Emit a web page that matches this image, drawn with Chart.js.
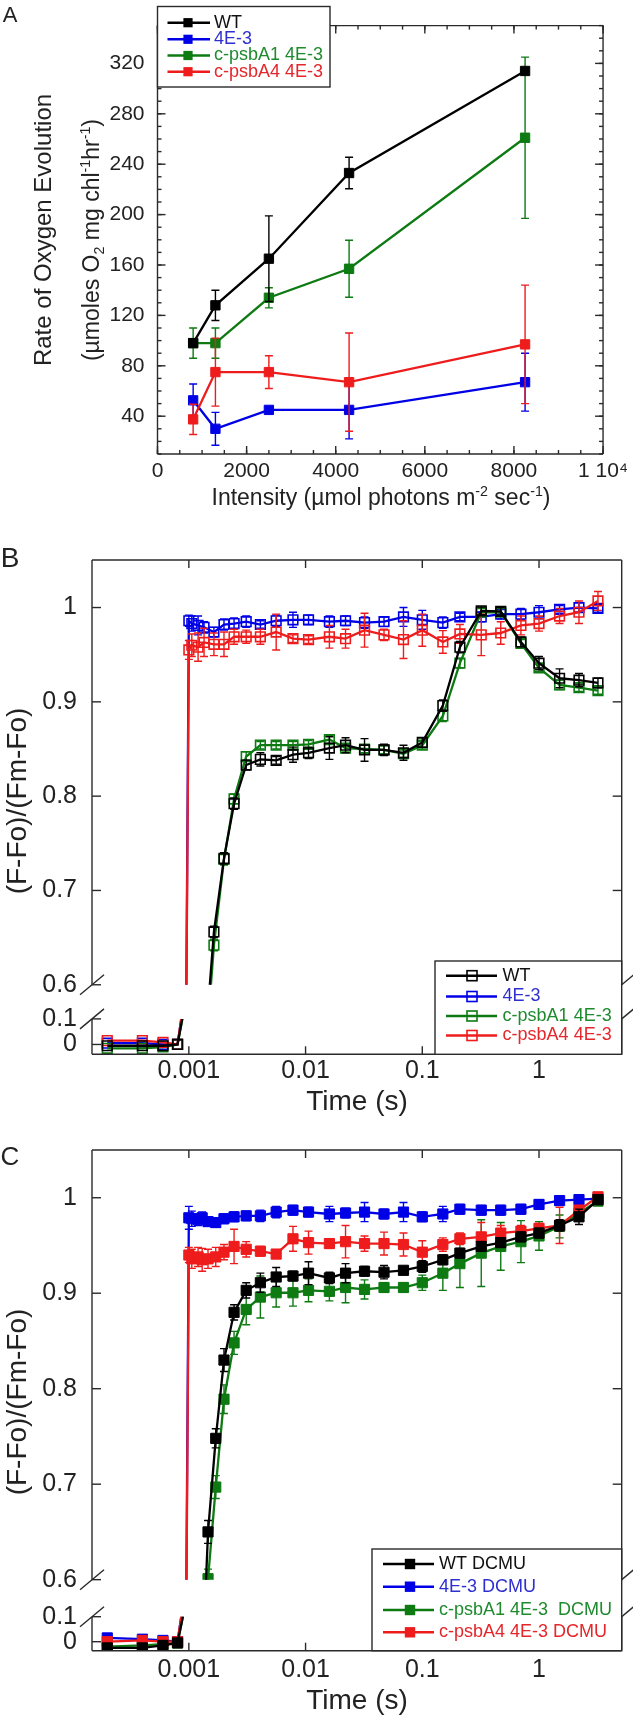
<!DOCTYPE html>
<html>
<head>
<meta charset="utf-8">
<script src="https://cdn.jsdelivr.net/npm/chart.js@4.4.1/dist/chart.umd.min.js"></script>
<style>
  body { margin: 0; background: #fff; }
  #page { position: relative; width: 633px; height: 1718px; font-family: 'Liberation Sans', Arial, sans-serif; color: #222; overflow: hidden; }
  canvas { position: absolute; left: 0; }
  .t { position: absolute; white-space: nowrap; transform: translate(-50%, -50%); line-height: 1; }
  .rot { transform: translate(-50%, -50%) rotate(-90deg); }
  sup, sub { font-size: 62%; line-height: 0; }
</style>
</head>
<body>
<div id="page">
  <canvas id="chartA" width="633" height="530" style="top:0"></canvas>
  <canvas id="chartB" width="633" height="590" style="top:530px"></canvas>
  <canvas id="chartC" width="633" height="598" style="top:1120px"></canvas>

  <div class="t" style="left:10px;top:15px;font-size:22px">A</div>
  <div class="t rot" style="left:43px;top:230px;font-size:24px">Rate of Oxygen Evolution</div>
  <div class="t rot" style="left:91px;top:240px;font-size:23px">(µmoles O<sub>2</sub> mg chl<sup>-1</sup>hr<sup>-1</sup>)</div>
  <div class="t" style="left:381px;top:497px;font-size:23px">Intensity (µmol photons m<sup>-2</sup> sec<sup>-1</sup>)</div>

  <div class="t" style="left:10px;top:558px;font-size:28px">B</div>
  <div class="t rot" style="left:17px;top:801px;font-size:28px">(F-Fo)/(Fm-Fo)</div>
  <div class="t" style="left:357px;top:1101px;font-size:28px">Time (s)</div>

  <div class="t" style="left:10px;top:1156px;font-size:26px">C</div>
  <div class="t rot" style="left:17px;top:1402px;font-size:28px">(F-Fo)/(Fm-Fo)</div>
  <div class="t" style="left:357px;top:1700px;font-size:28px">Time (s)</div>
</div>
<script>
Chart.defaults.font.family = "'Liberation Sans', Arial, sans-serif";
Chart.defaults.color = '#222';

// ---- panel A: oxygen evolution vs light intensity
const A_LABELS = ['WT', '4E-3', 'c-psbA1 4E-3', 'c-psbA4 4E-3'];
const A_INTENSITY = [800, 1300, 2500, 4300, 8250];
const A_WT = [98, 128, 165, 233, 314];
const A_WT_ERR = [0, 12, 34, 12.5, 0];
const A_4E3 = [52.6, 30, 45, 45, 67];
const A_4E3_ERR = [13, 13, 0, 23, 23];
const A_PSBA1 = [98, 98, 134, 157, 261];
const A_PSBA1_ERR = [12, 12, 8, 22.6, 64];
const A_PSBA4 = [37.5, 75, 75, 67, 97];
const A_PSBA4_ERR = [12, 27, 13, 39, 47];
const A_X_TICKS = [0, 2000, 4000, 6000, 8000, 10000];
const A_Y_TICKS = [40, 80, 120, 160, 200, 240, 280, 320];

// ---- panel B: fluorescence induction, no DCMU (null = not shown)
const B_LABELS = ['WT', '4E-3', 'c-psbA1 4E-3', 'c-psbA4 4E-3'];
const B_TIME = [0.0002, 0.0004, 0.0006, 0.0008, 0.0009, 0.001, 0.00106, 0.0012, 0.00135, 0.00164,
  0.002, 0.00244, 0.0031, 0.0041, 0.0056, 0.0078, 0.0106, 0.016, 0.022, 0.032, 0.047, 0.069,
  0.1, 0.15, 0.21, 0.32, 0.47, 0.7, 1.0, 1.5, 2.2, 3.2];
const B_WT = [-0.005, -0.005, -0.005, 0.0, null, null, null, 0.44, null, 0.656,
  0.734, 0.792, 0.833, 0.839, 0.838, 0.844, 0.846, 0.851, 0.854, 0.849, 0.849, 0.846,
  0.857, 0.896, 0.958, 0.9965, 0.996, 0.9635, 0.941, 0.925, 0.923, 0.920];
const B_WT_ERR = [0, 0, 0, 0, null, null, null, 0, null, 0.006,
  0.006, 0.006, 0.005, 0.007, 0.004, 0.008, 0.006, 0.012, 0.008, 0.012, 0.006, 0.008,
  0.005, 0.006, 0.006, 0.004, 0.004, 0.005, 0.007, 0.01, 0.007, 0.005];
const B_4E3 = [0.005, 0.005, 0.0, 0.0, 0.16, 0.986, 0.983, 0.981, 0.979, 0.974,
  0.982, 0.983, 0.985, 0.982, 0.986, 0.987, 0.987, 0.985, 0.986, 0.984, 0.985, 0.99,
  0.987, 0.984, 0.99, 0.99, 0.993, 0.993, 0.995, 0.998, 1.0, 0.999];
const B_4E3_ERR = [0, 0, 0, 0, 0, 0.006, 0.008, 0.01, 0.006, 0.005,
  0.006, 0.006, 0.006, 0.004, 0.006, 0.008, 0.005, 0.006, 0.005, 0.006, 0.005, 0.01,
  0.01, 0.006, 0.004, 0.005, 0.005, 0.006, 0.007, 0.004, 0.005, 0.004];
const B_PSBA1 = [-0.015, -0.015, -0.01, 0.0, null, null, null, 0.42, null, 0.642,
  0.733, 0.797, 0.842, 0.854, 0.854, 0.854, 0.855, 0.860, 0.851, 0.850, 0.849, 0.845,
  0.854, 0.885, 0.941, 0.995, 0.995, 0.962, 0.936, 0.918, 0.915, 0.912];
const B_PSBA1_ERR = [0, 0, 0, 0, null, null, null, 0, null, 0.006,
  0.006, 0.005, 0.005, 0.004, 0.004, 0.004, 0.004, 0.004, 0.004, 0.004, 0.004, 0.004,
  0.004, 0.006, 0.005, 0.004, 0.004, 0.004, 0.004, 0.005, 0.004, 0.004];
const B_PSBA4 = [0.015, 0.015, 0.008, 0.0, 0.16, 0.955, 0.960, 0.958, 0.963, 0.961,
  0.961, 0.969, 0.969, 0.969, 0.974, 0.967, 0.966, 0.969, 0.967, 0.976, 0.971, 0.966,
  0.976, 0.9635, 0.972, 0.971, 0.973, 0.981, 0.983, 0.991, 0.995, 1.007];
const B_PSBA4_ERR = [0, 0, 0, 0, 0, 0.01, 0.012, 0.015, 0.015, 0.012,
  0.013, 0.008, 0.007, 0.008, 0.019, 0.004, 0.004, 0.012, 0.01, 0.018, 0.006, 0.02,
  0.017, 0.012, 0.01, 0.022, 0.012, 0.01, 0.008, 0.008, 0.012, 0.01];

// ---- panel C: fluorescence induction with DCMU
const C_LABELS = ['WT DCMU', '4E-3 DCMU', 'c-psbA1 4E-3  DCMU', 'c-psbA4 4E-3 DCMU'];
const C_TIME = [0.0002, 0.0004, 0.0006, 0.0008, 0.0009, 0.001, 0.00106, 0.0012, 0.0013, 0.00146,
  0.0017, 0.002, 0.00244, 0.0031, 0.0041, 0.0056, 0.0078, 0.0106, 0.016, 0.022, 0.032, 0.047,
  0.069, 0.1, 0.15, 0.21, 0.32, 0.47, 0.7, 1.0, 1.5, 2.2, 3.2];
const C_WT = [-0.025, -0.025, -0.015, -0.005, null, null, null, 0.40, null, 0.650,
  0.748, 0.830, 0.880, 0.903, 0.911, 0.917, 0.918, 0.921, 0.916, 0.921, 0.923, 0.922,
  0.924, 0.928, 0.935, 0.942, 0.949, 0.953, 0.959, 0.963, 0.971, 0.980, 0.998];
const C_WT_ERR = [0, 0, 0, 0, null, null, null, 0, null, 0.012,
  0.01, 0.012, 0.008, 0.008, 0.01, 0.01, 0.005, 0.012, 0.006, 0.01, 0.005, 0.007,
  0.004, 0.006, 0.005, 0.005, 0.005, 0.005, 0.005, 0.005, 0.006, 0.008, 0.004];
const C_4E3 = [0.015, 0.01, 0.005, 0.0, 0.16, 0.979, 0.978, 0.977, 0.979, 0.975,
  0.974, 0.978, 0.980, 0.981, 0.981, 0.985, 0.987, 0.985, 0.983, 0.984, 0.985, 0.983,
  0.985, 0.980, 0.983, 0.988, 0.987, 0.987, 0.988, 0.993, 0.997, 0.998, 0.999];
const C_4E3_ERR = [0, 0, 0, 0, 0, 0.012, 0.008, 0.006, 0.006, 0.005,
  0.005, 0.005, 0.005, 0.005, 0.006, 0.006, 0.005, 0.005, 0.008, 0.005, 0.01, 0.005,
  0.01, 0.005, 0.008, 0.005, 0.005, 0.005, 0.005, 0.005, 0.005, 0.005, 0.004];
const C_PSBA1 = [-0.02, -0.015, -0.01, -0.005, null, null, null, 0.40, null, 0.601,
  0.697, 0.789, 0.848, 0.883, 0.896, 0.9005, 0.9005, 0.903, 0.902, 0.906, 0.904, 0.906,
  0.906, 0.911, 0.921, 0.931, 0.942, 0.949, 0.954, 0.960, 0.970, 0.984, 0.9965];
const C_PSBA1_ERR = [0, 0, 0, 0, null, null, null, 0, null, 0.01,
  0.012, 0.015, 0.012, 0.016, 0.022, 0.015, 0.014, 0.012, 0.01, 0.016, 0.01, 0.005,
  0.005, 0.008, 0.018, 0.025, 0.035, 0.025, 0.022, 0.015, 0.012, 0.006, 0.004];
const C_PSBA4 = [0.0, 0.005, 0.0, 0.0, 0.16, 0.940, 0.936, 0.938, 0.935, 0.936,
  0.938, 0.943, 0.949, 0.946, 0.944, 0.941, 0.957, 0.953, 0.952, 0.954, 0.952, 0.952,
  0.951, 0.943, 0.951, 0.957, 0.959, 0.963, 0.965, 0.968, 0.971, 0.987, 1.001];
const C_PSBA4_ERR = [0, 0, 0, 0, 0, 0.008, 0.01, 0.01, 0.012, 0.01,
  0.01, 0.008, 0.018, 0.008, 0.005, 0.004, 0.013, 0.012, 0.005, 0.017, 0.008, 0.012,
  0.012, 0.012, 0.007, 0.006, 0.015, 0.008, 0.006, 0.005, 0.019, 0.005, 0.004];

const TIME_TICKS = [0.001, 0.01, 0.1, 1];
const UPPER_TICKS = [0.6, 0.7, 0.8, 0.9, 1];
const LOWER_TICKS = [0, 0.1];

const COLORS = ['#000000', '#0000e6', '#0d7a12', '#ee1c1c'];
const TEXT_COLORS = ['#111111', '#2f2fd0', '#1f8a2e', '#e5262b'];
const DRAW_ORDER = [1, 4, 3, 2];

function points(xs, ys, errs) {
  const out = [];
  xs.forEach((x, i) => {
    if (ys[i] !== null) out.push({ x: x, y: ys[i], e: errs[i] || 0 });
  });
  return out;
}

// clip each dataset to its axis section and draw its error bars under it
const errorBars = {
  id: 'errorBars',
  beforeDatasetDraw(chart, args) {
    const ds = chart.data.datasets[args.index];
    const ys = chart.scales[args.meta.yAxisID];
    const a = chart.chartArea;
    const ctx = chart.ctx;
    ctx.save();
    if (ds.clipRange) {
      const top = ys.getPixelForValue(ds.clipRange[1]);
      const bottom = ys.getPixelForValue(ds.clipRange[0]);
      ctx.beginPath();
      ctx.rect(a.left, top, a.right - a.left, bottom - top);
      ctx.clip();
    }
    ctx.strokeStyle = ds.borderColor;
    ctx.lineWidth = 1.4;
    args.meta.data.forEach((pt, i) => {
      const d = ds.data[i];
      if (!d.e) return;
      const y1 = ys.getPixelForValue(d.y + d.e);
      const y2 = ys.getPixelForValue(d.y - d.e);
      ctx.beginPath();
      ctx.moveTo(pt.x, y1); ctx.lineTo(pt.x, y2);
      ctx.moveTo(pt.x - 4, y1); ctx.lineTo(pt.x + 4, y1);
      ctx.moveTo(pt.x - 4, y2); ctx.lineTo(pt.x + 4, y2);
      ctx.stroke();
    });
  },
  afterDatasetDraw(chart) {
    chart.ctx.restore();
  }
};

function framePlugin(cfg) {
  return {
    id: 'frame',
    afterDatasetsDraw(chart) {
      const { ctx, chartArea: a, scales } = chart;
      const seg = (x1, y1, x2, y2) => { ctx.beginPath(); ctx.moveTo(x1, y1); ctx.lineTo(x2, y2); ctx.stroke(); };
      ctx.save();
      ctx.strokeStyle = '#2a2a2a';
      ctx.lineWidth = 1.4;
      seg(a.left, a.top, a.right, a.top);
      seg(a.left, a.bottom, a.right, a.bottom);
      if (cfg.brk) {
        const y1 = scales.yU.getPixelForValue(0.6);
        const y2 = scales.yL.getPixelForValue(0.1);
        [a.left, a.right].forEach(x => {
          seg(x, a.top, x, y1);
          seg(x, y2, x, a.bottom);
          seg(x - 12, y1 + 10, x + 12, y1 - 10);
          seg(x - 12, y2 + 10, x + 12, y2 - 10);
        });
      } else {
        seg(a.left, a.top, a.left, a.bottom);
        seg(a.right, a.top, a.right, a.bottom);
      }
      cfg.xTicks.forEach(([v, len]) => {
        const px = scales.x.getPixelForValue(v);
        seg(px, a.bottom, px, a.bottom - len);
        seg(px, a.top, px, a.top + len);
      });
      cfg.yTicks.forEach(([id, v, len]) => {
        const py = scales[id].getPixelForValue(v);
        seg(a.left, py, a.left + len, py);
        seg(a.right, py, a.right - len, py);
      });
      ctx.restore();
    }
  };
}

function legendPlugin(cfg) {
  return {
    id: 'boxLegend',
    afterDraw(chart) {
      const ctx = chart.ctx;
      const [l, t, r, b] = cfg.box;
      ctx.save();
      ctx.fillStyle = '#fff';
      ctx.fillRect(l, t, r - l, b - t);
      ctx.strokeStyle = '#2a2a2a';
      ctx.lineWidth = 1.4;
      ctx.strokeRect(l, t, r - l, b - t);
      ctx.font = cfg.size + "px 'Liberation Sans', Arial, sans-serif";
      ctx.textBaseline = 'middle';
      chart.data.datasets.filter(d => d.label).forEach((ds, i) => {
        const y = cfg.rows[i];
        ctx.strokeStyle = ds.borderColor;
        ctx.lineWidth = 2.4;
        ctx.beginPath(); ctx.moveTo(cfg.line[0], y); ctx.lineTo(cfg.line[1], y); ctx.stroke();
        const h = cfg.mark[1];
        if (cfg.open) {
          ctx.lineWidth = 1.6;
          ctx.strokeRect(cfg.mark[0] - h, y - h, 2 * h, 2 * h);
        } else {
          ctx.fillStyle = ds.borderColor;
          ctx.fillRect(cfg.mark[0] - h, y - h, 2 * h, 2 * h);
        }
        ctx.fillStyle = ds.textColor;
        ctx.fillText(ds.label, cfg.text, y);
      });
      ctx.restore();
    }
  };
}

function yAxis(min, max, ticks, width, size, pad, extra) {
  return Object.assign({
    type: 'linear', position: 'left', min: min, max: max, bounds: 'data',
    afterBuildTicks: s => { s.ticks = ticks.map(v => ({ value: v })); },
    afterFit: s => { s.width = width; },
    grid: { display: false, drawTicks: false },
    border: { display: false },
    ticks: { font: { size: size }, color: '#222', padding: pad, autoSkip: false, callback: v => String(v) }
  }, extra || {});
}

function xAxis(type, min, max, ticks, height, size, pad, fmt) {
  return {
    type: type, min: min, max: max, bounds: 'data',
    afterBuildTicks: s => { s.ticks = ticks.map(v => ({ value: v })); },
    afterFit: s => { s.height = height; },
    grid: { display: false, drawTicks: false },
    border: { display: false },
    ticks: { font: { size: size }, color: '#222', padding: pad, autoSkip: false, maxRotation: 0, callback: fmt }
  };
}

const baseOptions = {
  responsive: false,
  animation: false,
  devicePixelRatio: 1,
  events: [],
  plugins: { legend: { display: false }, tooltip: { enabled: false } }
};

// ---------- Chart A
const aValues = [A_WT, A_4E3, A_PSBA1, A_PSBA4];
const aErrors = [A_WT_ERR, A_4E3_ERR, A_PSBA1_ERR, A_PSBA4_ERR];
const aMinorX = [];
for (let v = 0; v <= 10000; v += 500) aMinorX.push([v, 4]);
const aMinorY = [];
for (let v = 10; v <= 350; v += 10) aMinorY.push(['y', v, 4]);

new Chart(document.getElementById('chartA'), {
  type: 'line',
  data: {
    datasets: A_LABELS.map((label, k) => ({
      label: label,
      textColor: TEXT_COLORS[k],
      data: points(A_INTENSITY, aValues[k], aErrors[k]),
      borderColor: COLORS[k],
      backgroundColor: COLORS[k],
      borderWidth: 2.3,
      pointStyle: 'rect',
      pointRadius: 6.6,
      pointBackgroundColor: COLORS[k],
      pointBorderColor: COLORS[k],
      pointBorderWidth: 1,
      order: DRAW_ORDER[k],
      tension: 0
    }))
  },
  options: Object.assign({}, baseOptions, {
    layout: { padding: { top: 6, right: 27.4, left: 0, bottom: 0 } },
    scales: {
      x: xAxis('linear', 0, 10000, A_X_TICKS, 76, 21, 5, v => v === 10000 ? '1 10\u2074' : String(v)),
      y: yAxis(10, 350, A_Y_TICKS, 157.5, 21, 13)
    }
  }),
  plugins: [errorBars,
    framePlugin({
      xTicks: aMinorX.concat(A_X_TICKS.map(v => [v, 8])),
      yTicks: aMinorY.concat(A_Y_TICKS.map(v => ['y', v, 8]))
    }),
    legendPlugin({ box: [157.5, 6.5, 330, 87], rows: [22.7, 39.3, 55.5, 71.7], line: [167.5, 210], mark: [188, 4.6], text: 214, size: 18, open: false })]
});

// ---------- broken-axis charts B and C
function brokenDatasets(labels, times, values, errors, open) {
  const out = [];
  labels.forEach((label, k) => {
    const pts = points(times, values[k], errors[k]);
    const style = {
      borderColor: COLORS[k],
      backgroundColor: COLORS[k],
      borderWidth: 2.3,
      pointStyle: 'rect',
      pointRadius: open ? 6.8 : 7.2,
      pointBorderWidth: open ? 1.6 : 1,
      pointBackgroundColor: open ? 'rgba(255,255,255,0)' : COLORS[k],
      pointBorderColor: COLORS[k],
      order: DRAW_ORDER[k],
      tension: 0
    };
    out.push(Object.assign({}, style, { label: label, textColor: TEXT_COLORS[k], data: pts, yAxisID: 'yU', clipRange: [0.6, 2] }));
    out.push(Object.assign({}, style, { data: pts.slice(), yAxisID: 'yL', clipRange: [-1, 0.1] }));
  });
  return out;
}

function brokenChart(id, labels, times, values, errors, open, geo, legend) {
  new Chart(document.getElementById(id), {
    type: 'line',
    data: { datasets: brokenDatasets(labels, times, values, errors, open) },
    options: Object.assign({}, baseOptions, {
      layout: { padding: { top: geo.top, right: 11.3, left: 0, bottom: 0 } },
      scales: {
        x: xAxis('logarithmic', 1.48e-4, 5.11, TIME_TICKS, geo.xh, 25, geo.xpad, v => String(v)),
        yL: yAxis(geo.lower[0], geo.lower[1], LOWER_TICKS, 92, 25, 15, { stack: 'sec', stackWeight: geo.lower[2] }),
        yU: yAxis(geo.upper[0], geo.upper[1], UPPER_TICKS, 92, 25, 15, { stack: 'sec', stackWeight: geo.upper[2] })
      }
    }),
    plugins: [errorBars,
      framePlugin({
        brk: true,
        xTicks: TIME_TICKS.map(v => [v, 8]),
        yTicks: UPPER_TICKS.map(v => ['yU', v, 9]).concat(LOWER_TICKS.map(v => ['yL', v, 9]))
      }),
      legendPlugin(legend)]
  });
}

brokenChart('chartB', B_LABELS, B_TIME,
  [B_WT, B_4E3, B_PSBA1, B_PSBA4], [B_WT_ERR, B_4E3_ERR, B_PSBA1_ERR, B_PSBA4_ERR], true,
  { top: 21.7, xh: 65.7, xpad: 2, upper: [0.5829, 1.0504, 448.3], lower: [-0.0385, 0.1704, 54.3] },
  { box: [435, 431, 621.7, 524.3], rows: [445.7, 466.5, 486, 505.5], line: [446, 497], mark: [472, 5], text: 502.6, size: 18, open: true });

brokenChart('chartC', C_LABELS, C_TIME,
  [C_WT, C_4E3, C_PSBA1, C_PSBA4], [C_WT_ERR, C_4E3_ERR, C_PSBA1_ERR, C_PSBA4_ERR], false,
  { top: 30, xh: 67.3, xpad: 4, upper: [0.5808, 1.05, 448], lower: [-0.036, 0.1748, 52.7] },
  { box: [372, 429, 621.7, 530.7], rows: [444, 466.7, 490, 512.3], line: [383, 434], mark: [410, 5.2], text: 439, size: 18, open: false });
</script>
</body>
</html>
